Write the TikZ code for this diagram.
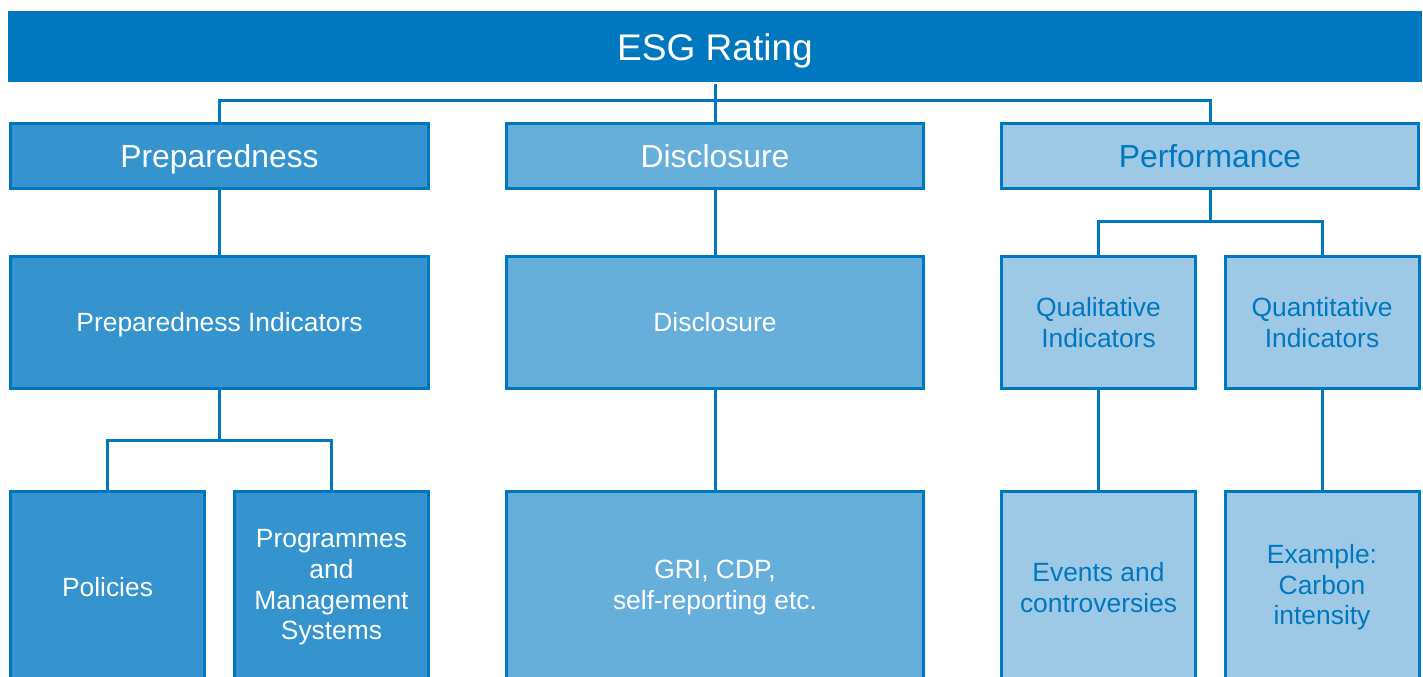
\documentclass[tikz,border=0pt]{standalone}
\usepackage{fontspec}
\setmainfont{Liberation Sans}
\definecolor{esgblue}{RGB}{0,120,192}
\definecolor{tierone}{RGB}{53,147,205}
\definecolor{tiertwo}{RGB}{102,175,219}
\definecolor{tierthree}{RGB}{157,201,230}
\tikzset{every picture/.style={line width=2.25pt}}
\begin{document}
\begin{tikzpicture}[x=0.75pt,y=0.75pt,yscale=-1,xscale=1,
    box/.style={draw=esgblue,line width=2.25pt,rectangle,inner sep=0pt,align=center,
        font=\fontsize{19.8}{23}\selectfont},
    oneline/.style={text height=14.2pt,text depth=0pt},
    headbox/.style={box,minimum width=313pt,minimum height=48.75pt,
        font=\fontsize{23.9}{28}\selectfont,text height=17.1pt,text depth=0pt},
    midbox/.style={box,minimum width=313pt,minimum height=99pt},
    smallmid/.style={box,minimum width=145.5pt,minimum height=99pt},
    lowbox/.style={box,minimum width=313pt,minimum height=144pt},
    smalllow/.style={box,minimum width=145.5pt,minimum height=144pt},
    prepcol/.style={fill=tierone,text=white},
    disccol/.style={fill=tiertwo,text=white},
    perfcol/.style={fill=tierthree,text=esgblue},
    link/.style={draw=esgblue,line width=2.25pt}]
    \useasboundingbox (0,0) rectangle (1423,677);
    \clip (0,0) rectangle (1423,677);

    % top bar
    \node [fill=esgblue,text=white,inner sep=0pt,minimum width=1060.5pt,minimum height=53.25pt,
        font=\fontsize{27.8}{32}\selectfont,text height=19.9pt,text depth=0pt] (esg) at (715,47) {ESG Rating};

    % second row
    \node [headbox,prepcol] (prep) at (219.5,156) {Preparedness};
    \node [headbox,disccol] (disc) at (715,156) {Disclosure};
    \node [headbox,perfcol] (perf) at (1210,156) {Performance};

    % third row
    \node [midbox,oneline,prepcol] (prepind) at (219.5,322.5) {Preparedness Indicators};
    \node [midbox,oneline,disccol] (discind) at (715,322.5) {Disclosure};
    \node [smallmid,perfcol] (qual) at (1098.5,322.5) {Qualitative\\Indicators};
    \node [smallmid,perfcol] (quant) at (1322,322.5) {Quantitative\\Indicators};

    % bottom row
    \node [smalllow,oneline,prepcol] (pol) at (107.5,587.5) {Policies};
    \node [smalllow,prepcol] (prog) at (331.5,587.5) {Programmes\\and\\Management\\Systems};
    \node [lowbox,disccol] (gri) at (715,587.5) {GRI, CDP,\\self-reporting etc.};
    \node [smalllow,perfcol] (events) at (1098.5,587.5) {Events and\\controversies};
    \node [smalllow,perfcol] (carbon) at (1322,587.5) {Example:\\Carbon\\intensity};

    % bus points
    \coordinate (topbus) at (715,101);
    \coordinate (prepbus) at (219.5,440);
    \coordinate (perfbus) at (1210,222);

    % connectors
    \draw [link] (esg.south) -- (disc);
    \draw [link] (prep.north) |- (topbus) -| (perf.north);
    \draw [link] (prep) -- (prepind);
    \draw [link] (prepind) -- (prepbus);
    \draw [link] (pol.north) |- (prepbus) -| (prog.north);
    \draw [link] (disc) -- (discind);
    \draw [link] (discind) -- (gri);
    \draw [link] (perf) -- (perfbus);
    \draw [link] (qual.north) |- (perfbus) -| (quant.north);
    \draw [link] (qual) -- (events);
    \draw [link] (quant) -- (carbon);
\end{tikzpicture}
\end{document}
